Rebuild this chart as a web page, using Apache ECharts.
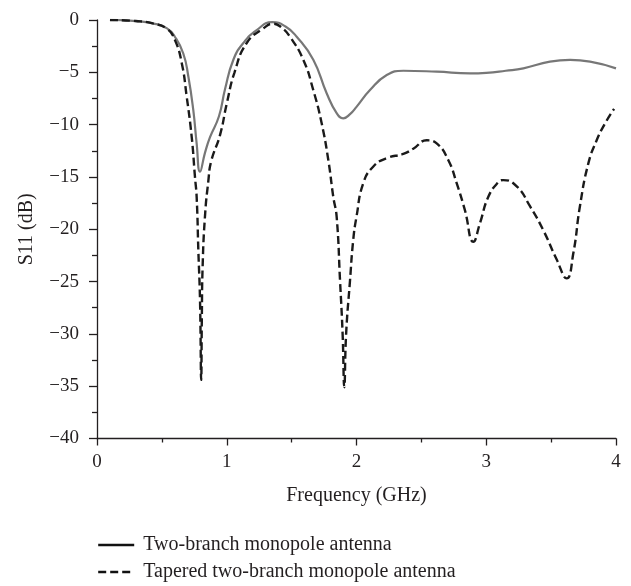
<!DOCTYPE html>
<html>
<head>
<meta charset="utf-8">
<script src="https://cdn.jsdelivr.net/npm/echarts@6/dist/echarts.min.js"></script>
<style>html,body{margin:0;padding:0;background:#fff}#c{width:631px;height:586px}</style>
</head>
<body>
<div id="c"></div>
<script>
const seriesNames = ['Two-branch monopole antenna', 'Tapered two-branch monopole antenna'];
const xTicks = [0, 1, 2, 3, 4];
const yTicks = [0, -5, -10, -15, -20, -25, -30, -35, -40];

const freqA = [0.10,0.30,0.43,0.54,0.60,0.665,0.704,0.742,0.768,0.794,0.832,0.871,0.94,0.987,1.051,1.128,1.231,1.35,1.45,1.539,1.667,1.77,1.847,1.898,1.95,2.0,2.104,2.233,2.361,2.618,2.875,3.0,3.15,3.286,3.491,3.646,3.8,4.0];
const s11A  = [0,-0.1,-0.32,-0.8,-1.6,-3.2,-5.4,-8.6,-11.8,-14.5,-12.7,-11.2,-9.2,-6.6,-3.8,-2.2,-0.96,-0.2,-0.6,-1.6,-3.8,-7.0,-8.9,-9.4,-9.0,-8.3,-6.7,-5.26,-4.85,-4.94,-5.1,-5.05,-4.85,-4.62,-3.98,-3.82,-3.98,-4.62];

const freqB = [0.10,0.30,0.43,0.54,0.60,0.653,0.691,0.73,0.755,0.768,0.781,0.794,0.803,0.808,0.814,0.832,0.858,0.88,0.948,1.0,1.06,1.154,1.282,1.359,1.42,1.487,1.59,1.667,1.732,1.783,1.821,1.847,1.873,1.893,1.906,1.92,1.95,1.975,2.0,2.052,2.13,2.233,2.361,2.438,2.541,2.618,2.708,2.772,2.836,2.9,2.952,3.016,3.093,3.131,3.235,3.337,3.44,3.543,3.62,3.671,3.722,3.787,3.851,3.915,3.985];
const s11B  = [0,-0.1,-0.32,-0.85,-1.9,-4.1,-7.3,-11.2,-15.0,-16.9,-22,-26.8,-34.4,-28.4,-23.6,-18.8,-15.4,-13.5,-11.0,-8.0,-5.0,-2.2,-0.8,-0.35,-0.7,-1.6,-3.8,-6.7,-9.9,-13.4,-16.9,-18.8,-24.9,-30,-35.1,-30,-24.9,-21,-18.8,-15.6,-14.0,-13.2,-12.8,-12.3,-11.5,-11.8,-13.4,-15.6,-18.2,-21.2,-19.4,-16.9,-15.5,-15.3,-15.9,-17.8,-20.1,-22.9,-24.7,-22.3,-17.8,-13.7,-11.5,-9.9,-8.5];

const pairs = (xs, ys) => xs.map((x, i) => [x, ys[i]]);
const FONT = '"Liberation Serif", "DejaVu Serif", serif';
const TXT = '#231f20';
const DASH = [8, 4];

const chart = echarts.init(document.getElementById('c'), null, {renderer: 'canvas'});
chart.setOption({
  animation: false,
  backgroundColor: '#fff',
  grid: {left: 97, right: 15, top: 20, bottom: 147.5, containLabel: false},
  xAxis: {
    type: 'value', min: xTicks[0], max: xTicks[xTicks.length - 1], interval: 1,
    name: 'Frequency (GHz)', nameLocation: 'middle', nameGap: 47,
    nameTextStyle: {fontFamily: FONT, fontSize: 20, color: TXT},
    axisLine: {onZero: false, lineStyle: {color: TXT, width: 1.3}},
    axisTick: {show: true, inside: false, length: 7, lineStyle: {color: TXT, width: 1.3}},
    minorTick: {show: true, splitNumber: 2, length: 4, lineStyle: {color: TXT, width: 1.3}},
    axisLabel: {fontFamily: FONT, fontSize: 19, color: TXT, margin: 14},
    splitLine: {show: false}
  },
  yAxis: {
    type: 'value', min: yTicks[yTicks.length - 1], max: yTicks[0], interval: 5,
    name: 'S11 (dB)', nameLocation: 'middle', nameGap: 60,
    nameTextStyle: {fontFamily: FONT, fontSize: 20, color: TXT},
    axisLine: {onZero: false, lineStyle: {color: TXT, width: 1.3}},
    axisTick: {show: true, inside: false, length: 8, lineStyle: {color: TXT, width: 1.3}},
    minorTick: {show: true, splitNumber: 2, length: 5, lineStyle: {color: TXT, width: 1.3}},
    axisLabel: {fontFamily: FONT, fontSize: 19, color: TXT, margin: 18,
      formatter: v => (v < 0 ? '\u2212' + Math.abs(v) : String(v))},
    splitLine: {show: false}
  },
  legend: {
    orient: 'vertical', left: 97, top: 533, height: 70, padding: 0,
    itemWidth: 36, itemHeight: 14, itemGap: 3,
    formatter: n => '\u2009' + n,
    textStyle: {fontFamily: FONT, fontSize: 20, lineHeight: 24, color: TXT},
    data: [
      {name: seriesNames[0], itemStyle: {opacity: 0}, lineStyle: {color: '#111', type: 'solid', width: 2.4}},
      {name: seriesNames[1], itemStyle: {opacity: 0}, lineStyle: {color: '#111', type: DASH, width: 2.4}}
    ]
  },
  series: [
    {name: seriesNames[0], type: 'line', data: pairs(freqA, s11A), showSymbol: false, symbol: 'none',
     smooth: 0.5, lineStyle: {color: '#777777', width: 2.2}, itemStyle: {color: '#777777'}},
    {name: seriesNames[1], type: 'line', data: pairs(freqB, s11B), showSymbol: false, symbol: 'none',
     smooth: 0.5, lineStyle: {color: '#1a1a1a', width: 2.4, type: DASH}, itemStyle: {color: '#1a1a1a'}}
  ]
});
</script>
</body>
</html>
